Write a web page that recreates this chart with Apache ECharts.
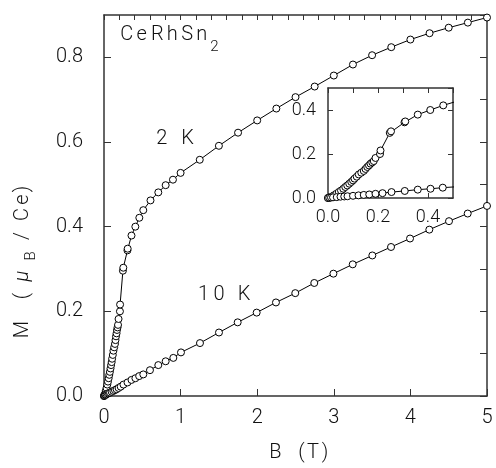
<!DOCTYPE html>
<html>
<head>
<meta charset="utf-8">
<script src="https://cdn.jsdelivr.net/npm/echarts@6/dist/echarts.min.js"></script>
<style>
html,body{margin:0;padding:0;background:#fff;}
#chart{width:496px;height:468px;}
</style>
</head>
<body>
<div id="chart"></div>
<script>
// ---- Data ----
const b2K = [0, 0.003, 0.01, 0.023, 0.033, 0.043, 0.052, 0.061, 0.069, 0.077, 0.085, 0.093, 0.1, 0.106, 0.115, 0.123, 0.133, 0.143, 0.15, 0.157, 0.164, 0.17, 0.177, 0.183, 0.19, 0.208, 0.21, 0.247, 0.252, 0.306, 0.309, 0.359, 0.409, 0.461, 0.513, 0.607, 0.709, 0.805, 0.9, 1.0, 1.25, 1.5, 1.75, 2.0, 2.25, 2.5, 2.75, 3.0, 3.25, 3.5, 3.75, 4.0, 4.25, 4.5, 4.75, 5.0];
const m2K = [0, 0.001, 0.004, 0.012, 0.019, 0.027, 0.034, 0.042, 0.05, 0.057, 0.065, 0.073, 0.08, 0.088, 0.097, 0.107, 0.115, 0.123, 0.132, 0.141, 0.148, 0.156, 0.162, 0.168, 0.182, 0.2, 0.216, 0.296, 0.303, 0.344, 0.348, 0.379, 0.400, 0.421, 0.439, 0.462, 0.481, 0.498, 0.511, 0.527, 0.558, 0.591, 0.622, 0.651, 0.679, 0.706, 0.731, 0.757, 0.783, 0.805, 0.824, 0.842, 0.857, 0.870, 0.882, 0.894];
const b10K = [0, 0.005, 0.012, 0.02, 0.035, 0.05, 0.065, 0.078, 0.1, 0.122, 0.143, 0.165, 0.19, 0.218, 0.254, 0.307, 0.359, 0.41, 0.459, 0.513, 0.6, 0.709, 0.805, 0.905, 1.005, 1.253, 1.501, 1.745, 1.993, 2.245, 2.497, 2.745, 2.995, 3.247, 3.503, 3.747, 3.995, 4.247, 4.504, 4.748, 5.0];
const m10K = [0, 0.001, 0.002, 0.003, 0.004, 0.006, 0.007, 0.008, 0.01, 0.012, 0.014, 0.016, 0.019, 0.022, 0.027, 0.032, 0.038, 0.042, 0.047, 0.051, 0.061, 0.073, 0.082, 0.090, 0.103, 0.125, 0.150, 0.174, 0.197, 0.221, 0.243, 0.267, 0.289, 0.311, 0.332, 0.352, 0.372, 0.393, 0.413, 0.431, 0.449];

const compoundText = 'CeRhSn';
const compoundSub = '2';
const label2K = '2 K';
const label10K = '10 K';
const xTitle = 'B (T)';
const yTitleMain = ['M', '(', 'μ', 'B', '/', 'C', 'e', ')'];

// ---- Styling ----
const FONT = 'Roboto';
const FW = 300;
const AX = '#333';
const TXT = '#111';
const SZ = 20;
const pairs = (xs, ys) => xs.map((x, i) => [x, ys[i]]);

const chart = echarts.init(document.getElementById('chart'), null, { renderer: 'canvas' });

function fontStr(size, italic) { return (italic ? 'italic ' : '') + FW + ' ' + size + 'px ' + FONT; }
// place glyphs (non-space chars of text) centred at given x positions
function glyphs(text, centers, y, size, italic) {
  const chars = [...text].filter(c => c !== ' ');
  return chars.map((c, i) => ({ type: 'text', x: centers[i], y: y, z: 10,
    style: { text: c, font: fontStr(size, italic), fill: TXT, textVerticalAlign: 'middle', textAlign: 'center' } }));
}

function axisBase(extra) {
  return Object.assign({
    type: 'value',
    axisLine: { show: true, onZero: false, lineStyle: { color: AX, width: 1.5 } },
    axisTick: { show: true, inside: true, length: 7, lineStyle: { color: AX, width: 1 } },
    splitLine: { show: false },
    axisLabel: { show: false }
  }, extra);
}
const lab = (size, margin, fmt) => ({ show: true, color: TXT, fontFamily: FONT, fontWeight: FW, fontSize: size, margin: margin, formatter: fmt, showMaxLabel: false });
const smallTick = { show: true, inside: true, length: 5, lineStyle: { color: AX, width: 1 } };

const seriesStyle = (xi, yi, data) => ({
  type: 'line', xAxisIndex: xi, yAxisIndex: yi, data: data,
  symbol: 'circle', symbolSize: 7, showSymbol: true, clip: true,
  lineStyle: { color: '#000', width: 1 },
  itemStyle: { color: '#fff', borderColor: '#000', borderWidth: 1 },
  emphasis: { disabled: true }, animation: false
});

const graphics = [];
graphics.push(...glyphs(compoundText, [126.7, 141.7, 157.3, 172.3, 187.3, 201.7], 35, SZ));
graphics.push(...glyphs(compoundSub, [214.5], 47, 15));
graphics.push(...glyphs(label2K, [161.7, 187.5], 139, SZ));
graphics.push(...glyphs(label10K, [203.5, 219, 244], 295, SZ));
graphics.push(...glyphs(xTitle, [275.5, 301.5, 313, 325], 453, SZ));
// y title: rotated group whose local x runs upward from screen y = 400
const yCentersScreen = [329.5, 296, 276, 256, 236, 214.5, 199.5, 189];
const yChildren = yTitleMain.map((c, i) => {
  const isSub = c === 'B';
  const isMu = c === 'μ';
  return { type: 'text', x: 400 - yCentersScreen[i], y: isSub ? 8 : 0,
    style: { text: c, font: fontStr(isSub ? 15 : SZ, isMu), fill: TXT, textVerticalAlign: 'middle', textAlign: 'center' } };
});
graphics.push({ type: 'group', x: 23, y: 400, rotation: Math.PI / 2, z: 10, children: yChildren });

const option = {
  animation: false,
  backgroundColor: '#fff',
  grid: [
    { left: 104, right: 9, top: 15, bottom: 72, show: false },
    { left: 328, top: 88, width: 125, height: 110, show: true, backgroundColor: '#fff', borderWidth: 0 }
  ],
  xAxis: [
    axisBase({ gridIndex: 0, position: 'bottom', min: 0, max: 5, interval: 1,
      axisLabel: Object.assign(lab(SZ, 12, v => String(v)), { showMaxLabel: true }) }),
    axisBase({ gridIndex: 0, position: 'top', min: 0, max: 5, interval: 0.2, axisTick: smallTick }),
    axisBase({ gridIndex: 1, position: 'bottom', min: 0, max: 0.5, interval: 0.2, axisTick: smallTick,
      axisLabel: lab(18, 10, v => v.toFixed(1)) }),
    axisBase({ gridIndex: 1, position: 'top', min: 0, max: 0.5, interval: 0.1, axisTick: smallTick })
  ],
  yAxis: [
    axisBase({ gridIndex: 0, position: 'left', min: 0, max: 0.9, interval: 0.2,
      axisLabel: lab(SZ, 21, v => v.toFixed(1)) }),
    axisBase({ gridIndex: 0, position: 'right', min: 0, max: 0.9, interval: 0.1 }),
    axisBase({ gridIndex: 1, position: 'left', min: 0, max: 0.5, interval: 0.2, axisTick: smallTick,
      axisLabel: lab(18, 12, v => v.toFixed(1)) }),
    axisBase({ gridIndex: 1, position: 'right', min: 0, max: 0.5, interval: 0.2, axisTick: smallTick })
  ],
  series: [
    seriesStyle(0, 0, pairs(b2K, m2K)),
    seriesStyle(0, 0, pairs(b10K, m10K)),
    seriesStyle(2, 2, pairs(b2K, m2K)),
    seriesStyle(2, 2, pairs(b10K, m10K))
  ],
  graphic: graphics
};
chart.setOption(option);
</script>
</body>
</html>
